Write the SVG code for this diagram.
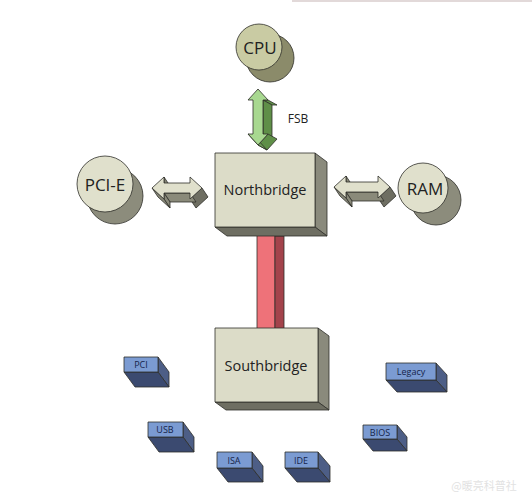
<svg xmlns="http://www.w3.org/2000/svg" width="532" height="500" viewBox="0 0 532 500">
<style>
.ln{stroke:#2e2e2a;stroke-width:0.8;stroke-linejoin:round}
.cf{fill:#e0e0cc}
.cb{fill:#8c8c7c}
.gf{fill:#dcdcc8}
.gs{fill:#8a8a7c}
.gb{fill:#6e6e62}
.bf{fill:#7b9bd2}
.bs{fill:#4d5e86}
.bb{fill:#3b4a70}
.t{font-family:"Open Sans","Noto Sans","Liberation Sans",sans-serif;fill:#222;text-anchor:middle}
.tb{font-family:"Open Sans","Noto Sans","Liberation Sans",sans-serif;fill:#16244a;text-anchor:middle;font-size:9px}
</style>
<rect width="532" height="500" fill="#ffffff"/>
<line x1="292" y1="1" x2="532" y2="1" stroke="#d9cccc" stroke-width="1.5"/>

<g id="connectors">
  <g id="bus-nb-sb">
    <rect x="257" y="230" width="18" height="100" fill="#ee7279" class="ln"/>
    <rect x="275" y="236" width="9" height="94" fill="#a3434b" class="ln"/>
  </g>
  <g id="fsb">
    <polygon class="ln" fill="#5f8f48" points="268,100 277,105 272,105 263,100"/>
    <polygon class="ln" fill="#5f8f48" points="263,100 272,105 272,139 263,134"/>
    <polygon class="ln" fill="#5f8f48" points="268,134 258,145 267,150 277,139"/>
    <polygon class="ln" fill="#6f9f58" points="248,134 258,145 267,150 257,139"/>
    <polygon class="ln" fill="#a8d890" points="258,89 268,100 263,100 263,134 268,134 258,145 248,134 253,134 253,100 248,100"/>
    <text class="t" x="298" y="123" font-size="12">FSB</text>
  </g>
  <g id="arrow-left">
    <polygon class="ln" fill="#8a8a7a" points="164,177 164,183 170,192 170,186"/>
    <polygon class="ln" fill="#6e6e62" points="202,188 190,199 196,208 208,197"/>
    <polygon class="ln" fill="#8a8a7a" points="190,193 164,193 170,202 196,202"/>
    <polygon class="ln" fill="#8a8a7a" points="164,193 164,199 170,208 170,202"/>
    <polygon class="ln" fill="#8a8a7a" points="164,199 152,188 158,197 170,208"/>
    <polygon class="ln" fill="#e0e0cc" points="152,188 164,177 164,183 190,183 190,177 202,188 190,199 190,193 164,193 164,199"/>
  </g>
  <g id="arrow-right">
    <polygon class="ln" fill="#8a8a7a" points="346,176 346,182 352,191 352,185"/>
    <polygon class="ln" fill="#6e6e62" points="390,187 378,198 384,207 396,196"/>
    <polygon class="ln" fill="#8a8a7a" points="378,192 346,192 352,201 384,201"/>
    <polygon class="ln" fill="#8a8a7a" points="346,192 346,198 352,207 352,201"/>
    <polygon class="ln" fill="#8a8a7a" points="346,198 334,187 340,196 352,207"/>
    <polygon class="ln" fill="#e0e0cc" points="334,187 346,176 346,182 378,182 378,176 390,187 378,198 378,192 346,192 346,198"/>
  </g>
</g>

<g id="cpu">
  <circle cx="270" cy="58" r="24" fill="#8b8b6a" class="ln"/>
  <circle cx="259" cy="47" r="23" fill="#c9cba3" class="ln"/>
  <text class="t" x="260" y="54" font-size="17">CPU</text>
</g>
<g id="pcie">
  <circle cx="115" cy="196" r="28" class="cb ln"/>
  <circle cx="105" cy="184" r="28" class="cf ln"/>
  <text class="t" x="105" y="191" font-size="17">PCI-E</text>
</g>
<g id="ram">
  <circle cx="436" cy="200" r="25" class="cb ln"/>
  <circle cx="423" cy="188" r="25" class="cf ln"/>
  <text class="t" x="425" y="195" font-size="17">RAM</text>
</g>

<g id="northbridge">
  <polygon class="gs ln" points="315,153 327,162 327,236 315,227"/>
  <polygon class="gb ln" points="215,227 315,227 327,236 227,236"/>
  <rect x="215" y="153" width="100" height="74" class="gf ln"/>
  <text class="t" x="265" y="195" font-size="14.5">Northbridge</text>
</g>
<g id="southbridge">
  <polygon class="gs ln" points="318,328 329,336 329,410 318,402"/>
  <polygon class="gb ln" points="215,402 318,402 329,410 226,410"/>
  <rect x="215" y="328" width="103" height="74" class="gf ln"/>
  <text class="t" x="266" y="371" font-size="14.5">Southbridge</text>
</g>

<g id="pci">
  <polygon class="bs ln" points="158,357 169,372 169,387 158,372"/>
  <polygon class="bb ln" points="124,372 158,372 169,387 135,387"/>
  <rect x="124" y="357" width="34" height="15" class="bf ln"/>
  <text class="tb" x="141" y="368">PCI</text>
</g>
<g id="usb">
  <polygon class="bs ln" points="183,422 194,437 194,452 183,437"/>
  <polygon class="bb ln" points="148,437 183,437 194,452 159,452"/>
  <rect x="148" y="422" width="35" height="15" class="bf ln"/>
  <text class="tb" x="165" y="433">USB</text>
</g>
<g id="isa">
  <polygon class="bs ln" points="252,452 263,466 263,482 252,468"/>
  <polygon class="bb ln" points="217,468 252,468 263,482 228,482"/>
  <rect x="217" y="452" width="35" height="16" class="bf ln"/>
  <text class="tb" x="234" y="464">ISA</text>
</g>
<g id="ide">
  <polygon class="bs ln" points="318,452 330,466 330,482 318,468"/>
  <polygon class="bb ln" points="285,468 318,468 330,482 297,482"/>
  <rect x="285" y="452" width="33" height="16" class="bf ln"/>
  <text class="tb" x="301" y="464">IDE</text>
</g>
<g id="legacy">
  <polygon class="bs ln" points="436,363 447,375 447,392 436,380"/>
  <polygon class="bb ln" points="386,380 436,380 447,392 397,392"/>
  <rect x="386" y="363" width="50" height="17" class="bf ln"/>
  <text class="tb" x="411" y="375">Legacy</text>
</g>
<g id="bios">
  <polygon class="bs ln" points="397,425 407,437 407,451 397,439"/>
  <polygon class="bb ln" points="363,439 397,439 407,451 373,451"/>
  <rect x="363" y="425" width="34" height="14" class="bf ln"/>
  <text class="tb" x="380" y="436">BIOS</text>
</g>

<text x="484" y="490" font-family="'Noto Sans CJK SC',sans-serif" font-size="11" fill="#e2e2e2" text-anchor="middle">@暖亮科普社</text>
</svg>
